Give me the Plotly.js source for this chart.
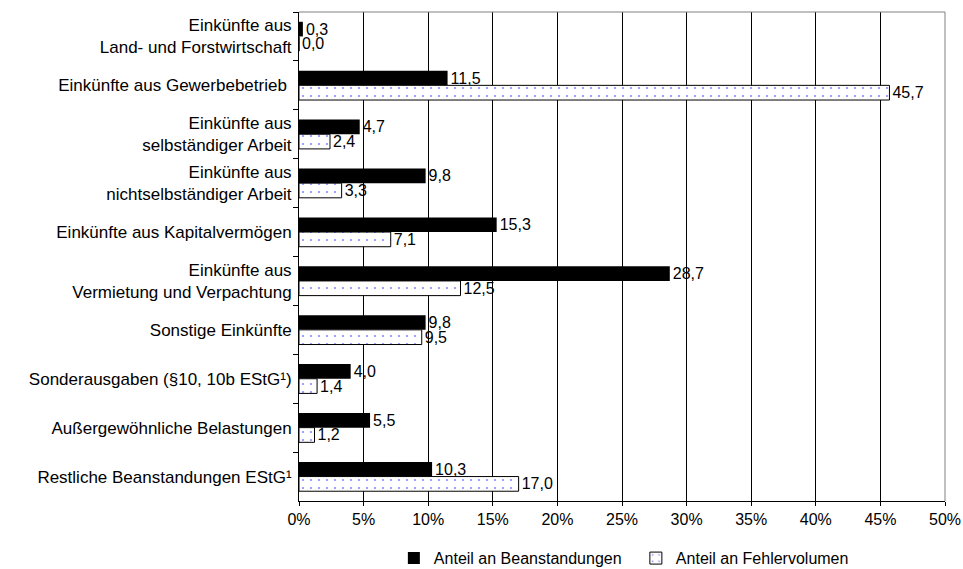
<!DOCTYPE html>
<html>
<head>
<meta charset="utf-8">
<script src="https://cdn.plot.ly/plotly-3.0.1.min.js"></script>
<style>html,body{margin:0;padding:0;background:#fff;}#chart{width:963px;height:569px;}</style>
</head>
<body>
<div id="chart"></div>
<script>
const categories = [
  "Einkünfte aus<br>Land- und Forstwirtschaft",
  "Einkünfte aus Gewerbebetrieb ",
  "Einkünfte aus<br>selbständiger Arbeit",
  "Einkünfte aus<br>nichtselbständiger Arbeit",
  "Einkünfte aus Kapitalvermögen",
  "Einkünfte aus<br>Vermietung und Verpachtung",
  "Sonstige Einkünfte",
  "Sonderausgaben (§10, 10b EStG¹)",
  "Außergewöhnliche Belastungen",
  "Restliche Beanstandungen EStG¹"
];
const beanstandungen = [0.3, 11.5, 4.7, 9.8, 15.3, 28.7, 9.8, 4.0, 5.5, 10.3];
const fehlervolumen  = [0.0, 45.7, 2.4, 3.3, 7.1, 12.5, 9.5, 1.4, 1.2, 17.0];
const seriesNames = ["Anteil an Beanstandungen", "Anteil an Fehlervolumen"];
const xTickVals = [0, 5, 10, 15, 20, 25, 30, 35, 40, 45, 50];
const xTickText = ["0%", "5%", "10%", "15%", "20%", "25%", "30%", "35%", "40%", "45%", "50%"];

const fmt = v => v.toFixed(1).replace(".", ",");
const FONT = "Liberation Sans, Arial, sans-serif";

const traces = [
  {
    type: "bar", orientation: "h", name: seriesNames[0],
    y: categories, x: beanstandungen,
    text: beanstandungen.map(fmt), textposition: "outside", cliponaxis: false,
    constraintext: "none",
    textfont: {family: FONT, size: 16, color: "#000"},
    marker: {color: "#000000", line: {color: "#000", width: 0}},
    hoverinfo: "x+y"
  },
  {
    type: "bar", orientation: "h", name: seriesNames[1],
    y: categories, x: fehlervolumen,
    text: fehlervolumen.map(fmt), textposition: "outside", cliponaxis: false,
    constraintext: "none",
    textfont: {family: FONT, size: 16, color: "#000"},
    marker: {
      color: "#ffffff",
      line: {color: "#000000", width: 1},
      pattern: {shape: ".", fgcolor: "#8c8cff", bgcolor: "#ffffff", size: 8, solidity: 0.06, fillmode: "replace"}
    },
    hoverinfo: "x+y"
  }
];

const layout = {
  width: 963, height: 569,
  margin: {l: 299, r: 18, t: 12, b: 68, pad: 0},
  paper_bgcolor: "#ffffff", plot_bgcolor: "#ffffff",
  font: {family: FONT, size: 16, color: "#000"},
  barmode: "group", bargap: 0.4, bargroupgap: 0,
  showlegend: true,
  legend: {
    orientation: "h", xref: "container", yref: "container",
    x: 0.409, xanchor: "left", y: 0.019, yanchor: "middle",
    font: {family: FONT, size: 16, color: "#000"},
    entrywidth: 197, entrywidthmode: "pixels",
    traceorder: "normal", bgcolor: "rgba(0,0,0,0)"
  },
  xaxis: {
    range: [0, 50], tickmode: "array", tickvals: xTickVals, ticktext: xTickText,
    showgrid: true, gridcolor: "#000000", gridwidth: 1,
    showline: true, linecolor: "#000000", linewidth: 1,
    ticks: "outside", ticklen: 4, tickcolor: "#000000",
    zeroline: false, fixedrange: true,
    tickfont: {family: FONT, size: 16, color: "#000"}
  },
  yaxis: {
    type: "category", autorange: "reversed",
    showline: true, linecolor: "#000000", linewidth: 1,
    ticks: "outside", ticklen: 5, tickcolor: "#000000", tickson: "boundaries",
    ticklabelstandoff: 3,
    showgrid: false, zeroline: false, fixedrange: true,
    tickfont: {family: FONT, size: 17, color: "#000"}
  },
  shapes: [
    {type: "line", xref: "paper", yref: "paper", x0: 0, x1: 1, y0: 1, y1: 1, line: {color: "#808080", width: 1}},
    {type: "line", xref: "paper", yref: "paper", x0: 1, x1: 1, y0: 0, y1: 1, line: {color: "#808080", width: 1}}
  ]
};

Plotly.newPlot("chart", traces, layout, {displayModeBar: false, staticPlot: true});
</script>
</body>
</html>
